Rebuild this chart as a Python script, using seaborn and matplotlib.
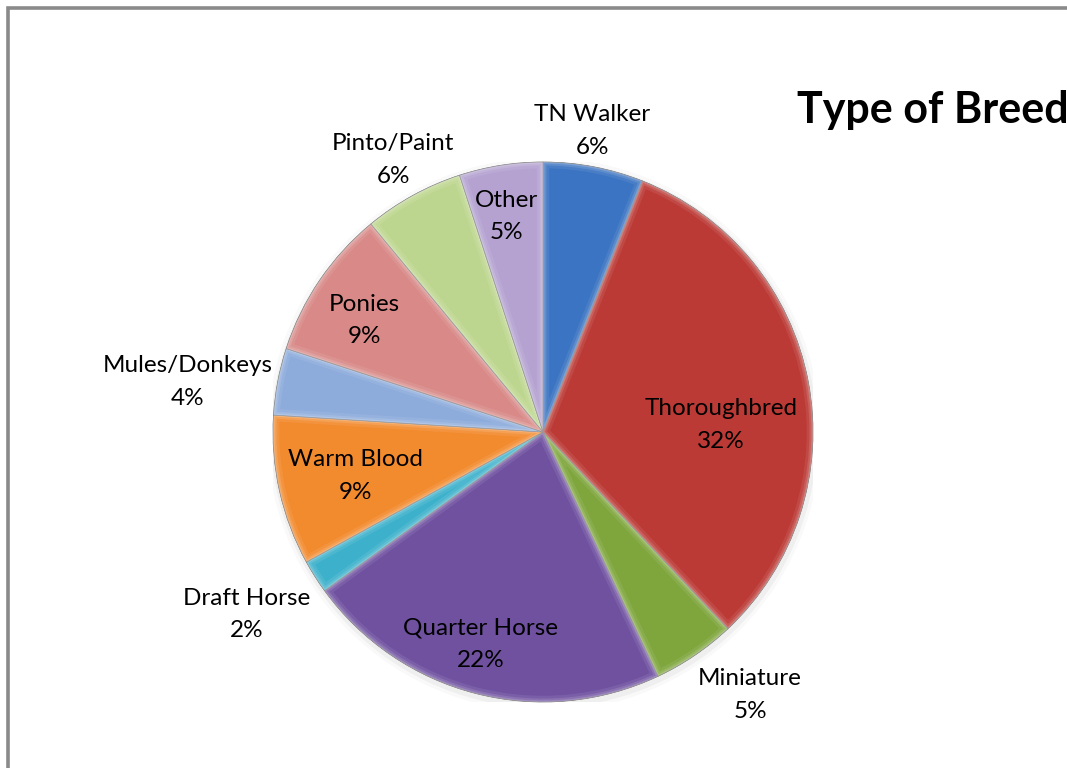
import numpy as np
import matplotlib
matplotlib.use("Agg")
import matplotlib.pyplot as plt
from matplotlib.patches import Rectangle, Wedge, Circle
import seaborn as sns

# Breed shares (percent), clockwise from 12 o'clock
breeds = ["TN Walker", "Thoroughbred", "Miniature", "Quarter Horse", "Draft Horse",
          "Warm Blood", "Mules/Donkeys", "Ponies", "Pinto/Paint", "Other"]
shares = [6, 32, 5, 22, 2, 9, 4, 9, 6, 5]

colors = ["#3A74C2", "#BC3A36", "#7EA63C", "#6F51A0", "#3DB1CB",
          "#F28A2E", "#8DABDB", "#D98A88", "#BDD68F", "#B5A2D1"]

# label placement: radial distance (in radii) and small angular shift (deg)
label_r = [1.13, 0.66, 1.24, 0.82, 1.29, 0.715, 1.33, 0.78, 1.15, 0.81]
label_shift = [1.5, -8.5, 4.0, -2.0, -0.8, 0.6, 2.8, 2.2, 0.0, 0.7]

sns.set_theme(style="white")
plt.rcParams["font.family"] = ["Lato", "DejaVu Sans"]

W, H = 1067, 768
fig = plt.figure(figsize=(W / 100, H / 100), dpi=100)
fig.patch.set_facecolor("white")

# page frame (top and left edges visible)
fig.add_artist(Rectangle((8 / W, -0.2), 1.3, 1 - 8 / H + 0.2, transform=fig.transFigure,
                         fill=False, edgecolor="#8A8A8A", linewidth=2.6))

cx, cy, R = 543, 432, 270
ax = fig.add_axes([(cx - R) / W, (H - cy - R) / H, 2 * R / W, 2 * R / H])

wedges, _ = ax.pie(shares, colors=colors, startangle=90, counterclock=False,
                   radius=1.0, wedgeprops=dict(edgecolor="#6a6a6a", linewidth=0.5))

# faint drop shadow
for k, a in zip([1.025, 1.012], [0.025, 0.04]):
    ax.add_patch(Circle((0.004, -0.01), k, color="#000000", alpha=a, lw=0, zorder=0))

# bevel highlight along every wedge outline (kept inside the wedge)
for w in wedges:
    w.set_zorder(2)
    for lw, a in [(9, 0.08), (5, 0.12), (2.2, 0.18)]:
        hl = Wedge(w.center, w.r, w.theta1, w.theta2, fill=False,
                   edgecolor="white", linewidth=lw, alpha=a, zorder=3)
        ax.add_patch(hl)
        hl.set_clip_path(w)

for w, name, val, r, sh in zip(wedges, breeds, shares, label_r, label_shift):
    mid = np.deg2rad((w.theta1 + w.theta2) / 2 + sh)
    ax.text(r * np.cos(mid), r * np.sin(mid), f"{name}\n{val}%",
            ha="center", va="center", fontsize=17.5, color="black",
            linespacing=1.68, zorder=5, clip_on=False)

ax.set_xlim(-1, 1)
ax.set_ylim(-1, 1)
ax.set_aspect("equal")
ax.axis("off")

fig.text(797 / W, 1 - 123 / H, "Type of Breed", ha="left", va="baseline",
         fontsize=31, fontweight="bold", color="black")

fig.savefig("out.png", dpi=100)
